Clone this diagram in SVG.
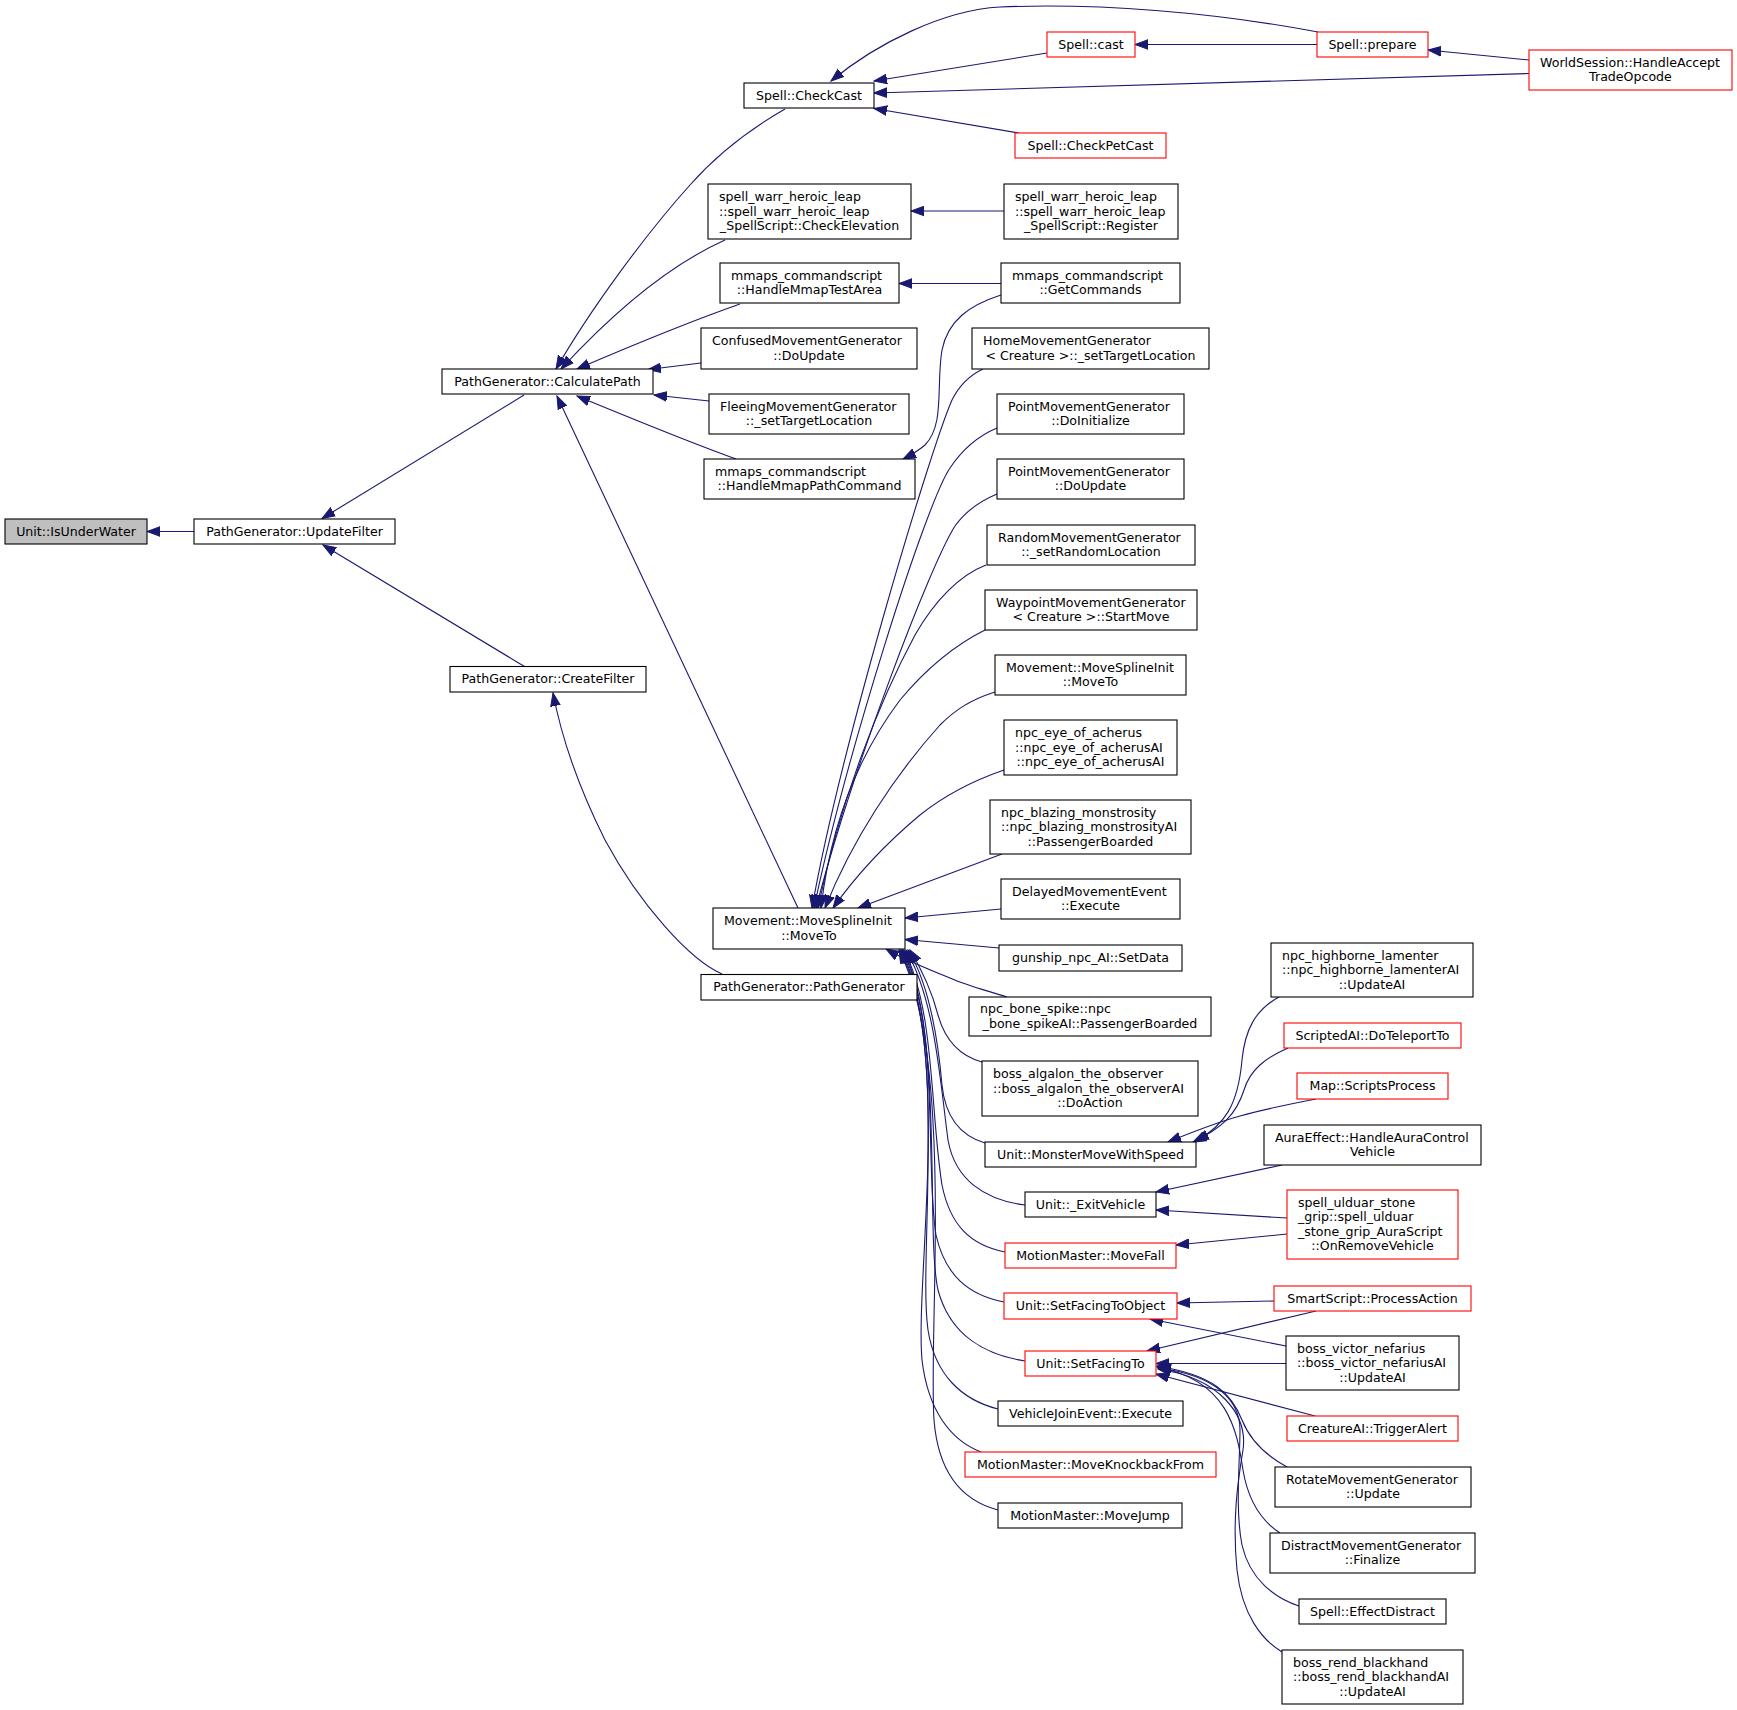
<svg xmlns="http://www.w3.org/2000/svg" width="1737" height="1710" viewBox="0 0 1737 1710">
<defs>
<style>
rect{fill:#fff;stroke:#000;stroke-width:1.1}
.r rect{stroke:#ff0000}
.g rect{fill:#bfbfbf}
text{font-family:"DejaVu Sans","Liberation Sans",sans-serif;font-size:12.6px;fill:#000}
.m{text-anchor:middle}
#edges path{fill:none;stroke:#191970;stroke-width:1.1;marker-end:url(#a)}
</style>
<marker id="a" markerUnits="userSpaceOnUse" markerWidth="14" markerHeight="11" refX="13" refY="5" orient="auto" viewBox="0 0 14 10"><path d="M0,0.2 L13,5 L0,9.8 z" fill="#191970" stroke="#191970" stroke-width="1"/></marker>
</defs>
<rect x="0" y="0" width="1737" height="1710" style="fill:#fff;stroke:none"/>
<g id="edges">
<path d="M194,531.5 L147,531.5"/>
<path d="M524,395 L322,518.5"/>
<path d="M524.5,666.5 L323,545"/>
<path d="M722,974 C690,960 640,905 605,840 C580,790 562,740 553,693"/>
<path d="M798,908 L557,396"/>
<path d="M785,109 C745,132 712,160 690,185 C645,235 590,310 556,369"/>
<path d="M1318,32 C1212,12 1097,3 1000,7 C944,10 877,43 831,81"/>
<path d="M1047,53 L874,81"/>
<path d="M1529,73.5 L874,93"/>
<path d="M1019,133 L874,108.5"/>
<path d="M1317,44.5 L1135,44.5"/>
<path d="M1529,60 L1428,50"/>
<path d="M725,240 C676,262 620,305 561,369"/>
<path d="M740,304 C700,318 640,342 577,369"/>
<path d="M701,363 L648,369.5"/>
<path d="M709,401 L654,395"/>
<path d="M736,459 C700,446 640,422 577,396"/>
<path d="M1001,283.5 L899,283.5"/>
<path d="M1004,211 L911,211"/>
<path d="M1001,295 C970,305 948,320 942,350 C936,385 945,425 925,445 C918,451 911,455 903,459"/>
<path d="M983,369 C968,376 958,388 952,400 C930,450 840,750 812,908"/>
<path d="M997,428 C978,436 962,450 950,468 C925,505 845,760 814,908"/>
<path d="M997,494 C978,502 965,512 955,526 C930,565 852,770 816,908"/>
<path d="M986,565 C960,575 935,600 915,635 C880,700 840,800 818,908"/>
<path d="M985,630 C955,645 925,670 900,700 C855,760 830,830 821,908"/>
<path d="M995,692 C970,700 955,710 940,725 C895,775 852,840 825,908"/>
<path d="M1004,770 C975,780 945,795 920,815 C890,840 860,870 833,908"/>
<path d="M1002,854 L858,908"/>
<path d="M1001,909 L905,918"/>
<path d="M999,948 L905,939.5"/>
<path d="M1007,997 C985,990 965,985 950,978 C930,970 905,960 886,949"/>
<path d="M982,1062 C960,1056 945,1040 938,1015 C932,992 922,970 910,950"/>
<path d="M985,1143 C958,1135 945,1115 942,1085 C938,1040 930,985 908,950"/>
<path d="M1025,1205 C985,1200 955,1180 948,1140 C940,1080 935,1000 906,950"/>
<path d="M1005,1252 C970,1245 950,1225 942,1185 C930,1110 935,1010 904,950"/>
<path d="M1004,1302 C968,1295 945,1275 936,1235 C925,1170 940,1020 903,950"/>
<path d="M1025,1361 C985,1355 950,1335 938,1290 C925,1230 945,1030 902,950"/>
<path d="M998,1409 C962,1400 935,1375 928,1330 C918,1260 948,1040 901,950"/>
<path d="M981,1452 C950,1440 928,1410 922,1360 C915,1280 952,1050 900,950"/>
<path d="M998,1510 C960,1500 938,1470 934,1420 C928,1330 955,1060 899,950"/>
<path d="M1279,997 C1255,1010 1245,1030 1242,1060 C1238,1105 1225,1125 1196,1141"/>
<path d="M1288,1048 C1265,1058 1250,1070 1244,1090 C1236,1115 1222,1128 1193,1142"/>
<path d="M1316,1099 C1290,1104 1265,1109 1240,1116 C1215,1123 1190,1133 1168,1142"/>
<path d="M1282,1165 L1156,1192"/>
<path d="M1287,1218 L1156,1210"/>
<path d="M1287,1234 L1176,1245"/>
<path d="M1274,1301 L1177,1303"/>
<path d="M1286,1346 L1150,1319"/>
<path d="M1316,1311 L1147,1351"/>
<path d="M1286,1363.5 L1156,1363.5"/>
<path d="M1315,1416 L1156,1374"/>
<path d="M1287,1467 C1265,1455 1250,1440 1242,1420 C1232,1395 1215,1375 1157,1366"/>
<path d="M1280,1533 C1260,1520 1248,1500 1243,1470 C1237,1430 1228,1380 1157,1367"/>
<path d="M1299,1606 C1275,1598 1250,1580 1242,1545 C1235,1510 1240,1460 1240,1430 C1240,1400 1215,1375 1158,1368"/>
<path d="M1282,1652 C1262,1640 1242,1615 1237,1570 C1232,1520 1238,1480 1243,1450 C1248,1415 1220,1378 1158,1369"/>
</g>
<g id="n1" class="g"><rect x="5" y="519" width="142" height="25"/><text class="m" x="76" y="535.7">Unit::IsUnderWater</text></g>
<g id="n2"><rect x="194" y="519" width="201" height="25"/><text class="m" x="294.5" y="535.7">PathGenerator::UpdateFilter</text></g>
<g id="n3"><rect x="442" y="369" width="211" height="25"/><text class="m" x="547.5" y="385.7">PathGenerator::CalculatePath</text></g>
<g id="n4"><rect x="450" y="666.5" width="196" height="25.5"/><text class="m" x="548" y="683.4">PathGenerator::CreateFilter</text></g>
<g id="n5"><rect x="701" y="974.5" width="216" height="25.5"/><text class="m" x="809" y="991.4">PathGenerator::PathGenerator</text></g>
<g id="n6"><rect x="744" y="83" width="130" height="25"/><text class="m" x="809" y="99.7">Spell::CheckCast</text></g>
<g id="n7" class="r"><rect x="1047" y="32" width="88" height="25"/><text class="m" x="1091" y="48.7">Spell::cast</text></g>
<g id="n8" class="r"><rect x="1317" y="32" width="111" height="25"/><text class="m" x="1372.5" y="48.7">Spell::prepare</text></g>
<g id="n9" class="r"><rect x="1529" y="50" width="203" height="40"/><text x="1540" y="66.95">WorldSession::HandleAccept</text><text class="m" x="1630.5" y="81.45">TradeOpcode</text></g>
<g id="n10" class="r"><rect x="1015" y="133" width="151" height="25"/><text class="m" x="1090.5" y="149.7">Spell::CheckPetCast</text></g>
<g id="n11"><rect x="708" y="184" width="203" height="55"/><text x="719" y="201.2">spell_warr_heroic_leap</text><text x="719" y="215.7">::spell_warr_heroic_leap</text><text class="m" x="809.5" y="230.2">_SpellScript::CheckElevation</text></g>
<g id="n12"><rect x="1004" y="184" width="174" height="55"/><text x="1015" y="201.2">spell_warr_heroic_leap</text><text x="1015" y="215.7">::spell_warr_heroic_leap</text><text class="m" x="1091" y="230.2">_SpellScript::Register</text></g>
<g id="n13"><rect x="720" y="263" width="179" height="40"/><text x="731" y="279.95">mmaps_commandscript</text><text class="m" x="809.5" y="294.45">::HandleMmapTestArea</text></g>
<g id="n14"><rect x="1001" y="263" width="179" height="40"/><text x="1012" y="279.95">mmaps_commandscript</text><text class="m" x="1090.5" y="294.45">::GetCommands</text></g>
<g id="n15"><rect x="701" y="328" width="216" height="41"/><text x="712" y="345.45">ConfusedMovementGenerator</text><text class="m" x="809" y="359.95">::DoUpdate</text></g>
<g id="n16"><rect x="709" y="394" width="200" height="40"/><text x="720" y="410.95">FleeingMovementGenerator</text><text class="m" x="809" y="425.45">::_setTargetLocation</text></g>
<g id="n17"><rect x="704" y="459" width="211" height="40"/><text x="715" y="475.95">mmaps_commandscript</text><text class="m" x="809.5" y="490.45">::HandleMmapPathCommand</text></g>
<g id="n18"><rect x="972" y="328" width="237" height="41"/><text x="983" y="345.45">HomeMovementGenerator</text><text class="m" x="1090.5" y="359.95">&lt; Creature &gt;::_setTargetLocation</text></g>
<g id="n19"><rect x="997" y="394" width="187" height="40"/><text x="1008" y="410.95">PointMovementGenerator</text><text class="m" x="1090.5" y="425.45">::DoInitialize</text></g>
<g id="n20"><rect x="997" y="459" width="187" height="40"/><text x="1008" y="475.95">PointMovementGenerator</text><text class="m" x="1090.5" y="490.45">::DoUpdate</text></g>
<g id="n21"><rect x="987" y="525" width="208" height="40"/><text x="998" y="541.95">RandomMovementGenerator</text><text class="m" x="1091" y="556.45">::_setRandomLocation</text></g>
<g id="n22"><rect x="985" y="590" width="212" height="40"/><text x="996" y="606.95">WaypointMovementGenerator</text><text class="m" x="1091" y="621.45">&lt; Creature &gt;::StartMove</text></g>
<g id="n23"><rect x="995" y="655" width="191" height="40"/><text x="1006" y="671.95">Movement::MoveSplineInit</text><text class="m" x="1090.5" y="686.45">::MoveTo</text></g>
<g id="n24"><rect x="1004" y="720" width="173" height="55"/><text x="1015" y="737.2">npc_eye_of_acherus</text><text x="1015" y="751.7">::npc_eye_of_acherusAI</text><text class="m" x="1090.5" y="766.2">::npc_eye_of_acherusAI</text></g>
<g id="n25"><rect x="990" y="800" width="201" height="54"/><text x="1001" y="816.7">npc_blazing_monstrosity</text><text x="1001" y="831.2">::npc_blazing_monstrosityAI</text><text class="m" x="1090.5" y="845.7">::PassengerBoarded</text></g>
<g id="n26"><rect x="1001" y="879" width="179" height="40"/><text x="1012" y="895.95">DelayedMovementEvent</text><text class="m" x="1090.5" y="910.45">::Execute</text></g>
<g id="n27"><rect x="999" y="945" width="183" height="26"/><text class="m" x="1090.5" y="962.2">gunship_npc_AI::SetData</text></g>
<g id="n28"><rect x="969" y="997" width="242" height="39"/><text x="980" y="1013.45">npc_bone_spike::npc</text><text class="m" x="1090" y="1027.95">_bone_spikeAI::PassengerBoarded</text></g>
<g id="n29"><rect x="982" y="1061" width="216" height="55"/><text x="993" y="1078.2">boss_algalon_the_observer</text><text x="993" y="1092.7">::boss_algalon_the_observerAI</text><text class="m" x="1090" y="1107.2">::DoAction</text></g>
<g id="n30"><rect x="985" y="1142" width="211" height="25"/><text class="m" x="1090.5" y="1158.7">Unit::MonsterMoveWithSpeed</text></g>
<g id="n31"><rect x="1025" y="1192" width="131" height="25"/><text class="m" x="1090.5" y="1208.7">Unit::_ExitVehicle</text></g>
<g id="n32" class="r"><rect x="1005" y="1243" width="171" height="25"/><text class="m" x="1090.5" y="1259.7">MotionMaster::MoveFall</text></g>
<g id="n33" class="r"><rect x="1004" y="1293" width="173" height="26"/><text class="m" x="1090.5" y="1310.2">Unit::SetFacingToObject</text></g>
<g id="n34" class="r"><rect x="1025" y="1351" width="131" height="25"/><text class="m" x="1090.5" y="1367.7">Unit::SetFacingTo</text></g>
<g id="n35"><rect x="998" y="1401" width="185" height="25"/><text class="m" x="1090.5" y="1417.7">VehicleJoinEvent::Execute</text></g>
<g id="n36" class="r"><rect x="965" y="1452" width="251" height="25"/><text class="m" x="1090.5" y="1468.7">MotionMaster::MoveKnockbackFrom</text></g>
<g id="n37"><rect x="998" y="1503" width="184" height="25"/><text class="m" x="1090" y="1519.7">MotionMaster::MoveJump</text></g>
<g id="n38"><rect x="713" y="908" width="192" height="41"/><text x="724" y="925.45">Movement::MoveSplineInit</text><text class="m" x="809" y="939.95">::MoveTo</text></g>
<g id="n39"><rect x="1271" y="943" width="202" height="54"/><text x="1282" y="959.7">npc_highborne_lamenter</text><text x="1282" y="974.2">::npc_highborne_lamenterAI</text><text class="m" x="1372" y="988.7">::UpdateAI</text></g>
<g id="n40" class="r"><rect x="1284" y="1023" width="177" height="25"/><text class="m" x="1372.5" y="1039.7">ScriptedAI::DoTeleportTo</text></g>
<g id="n41" class="r"><rect x="1297" y="1073" width="151" height="26"/><text class="m" x="1372.5" y="1090.2">Map::ScriptsProcess</text></g>
<g id="n42"><rect x="1264" y="1125" width="217" height="40"/><text x="1275" y="1141.95">AuraEffect::HandleAuraControl</text><text class="m" x="1372.5" y="1156.45">Vehicle</text></g>
<g id="n43" class="r"><rect x="1287" y="1190" width="171" height="69"/><text x="1298" y="1206.95">spell_ulduar_stone</text><text x="1298" y="1221.45">_grip::spell_ulduar</text><text x="1298" y="1235.95">_stone_grip_AuraScript</text><text class="m" x="1372.5" y="1250.45">::OnRemoveVehicle</text></g>
<g id="n44" class="r"><rect x="1274" y="1286" width="197" height="25"/><text class="m" x="1372.5" y="1302.7">SmartScript::ProcessAction</text></g>
<g id="n45"><rect x="1286" y="1336" width="173" height="54"/><text x="1297" y="1352.7">boss_victor_nefarius</text><text x="1297" y="1367.2">::boss_victor_nefariusAI</text><text class="m" x="1372.5" y="1381.7">::UpdateAI</text></g>
<g id="n46" class="r"><rect x="1287" y="1416" width="171" height="25"/><text class="m" x="1372.5" y="1432.7">CreatureAI::TriggerAlert</text></g>
<g id="n47"><rect x="1275" y="1467" width="196" height="40"/><text x="1286" y="1483.95">RotateMovementGenerator</text><text class="m" x="1373" y="1498.45">::Update</text></g>
<g id="n48"><rect x="1270" y="1533" width="205" height="40"/><text x="1281" y="1549.95">DistractMovementGenerator</text><text class="m" x="1372.5" y="1564.45">::Finalize</text></g>
<g id="n49"><rect x="1299" y="1599" width="147" height="25"/><text class="m" x="1372.5" y="1615.7">Spell::EffectDistract</text></g>
<g id="n50"><rect x="1282" y="1650" width="181" height="54"/><text x="1293" y="1666.7">boss_rend_blackhand</text><text x="1293" y="1681.2">::boss_rend_blackhandAI</text><text class="m" x="1372.5" y="1695.7">::UpdateAI</text></g>
</svg>
